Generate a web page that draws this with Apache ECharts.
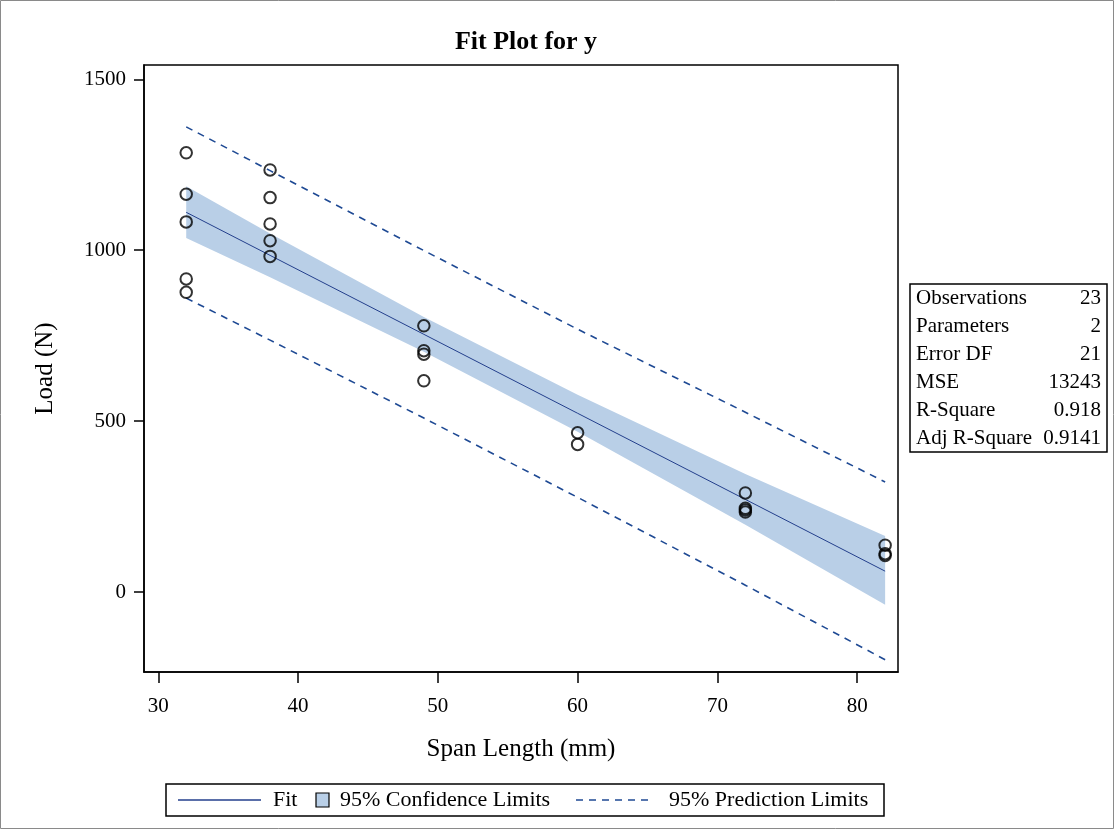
<!DOCTYPE html>
<html>
<head>
<meta charset="utf-8">
<title>Fit Plot for y</title>
<script src="https://cdn.jsdelivr.net/npm/echarts@6/dist/echarts.min.js"></script>
<style>
  html, body { margin: 0; padding: 0; background: #fff; }
  #chart { width: 1114px; height: 829px; }
</style>
</head>
<body>
<div id="chart"></div>
<script>
// distinct span lengths where the fit and the limits are drawn
const spanX = [32, 38, 49, 60, 72, 82]
const fitY = [1111, 985, 754, 523, 271, 61]
const ciLower = [1036, 921, 703, 469, 197, -37]
const ciUpper = [1187, 1049, 805, 577, 345, 164]
const piLower = [860, 737, 509, 277, 20, -198]
const piUpper = [1361, 1233, 999, 769, 526, 322]

// observations
const obsX = [32, 32, 32, 32, 32, 38, 38, 38, 38, 38, 49, 49, 49, 49, 60, 60, 72, 72, 72, 72, 82, 82, 82]
const obsY = [1285, 1164, 1083, 916, 877, 1235, 1154, 1077, 1028, 982, 779, 706, 696, 618, 466, 432, 290, 245, 240, 234, 137, 112, 107]

const xTicks = [30, 40, 50, 60, 70, 80]
const yTicks = [0, 500, 1000, 1500]

const statLabels = ['Observations', 'Parameters', 'Error DF', 'MSE', 'R-Square', 'Adj R-Square']
const statValues = ['23', '2', '21', '13243', '0.918', '0.9141']

const legendNames = ['Fit', '95% Confidence Limits', '95% Prediction Limits']

const FONT = '"Liberation Serif", "Times New Roman", serif'
const lineBlue = '#233f8c'
const dashBlue = '#1f4a94'
const bandBlue = '#b9cfe7'

const zip = (xs, ys) => xs.map((x, i) => [x, ys[i]])

const chart = echarts.init(document.getElementById('chart'))

// stats table on the right
const statRows = []
statLabels.forEach((label, i) => {
  const y = 298 + i * 28
  statRows.push({
    type: 'text', x: 916, y: y,
    style: { text: label, font: '21px ' + FONT, fill: '#000', textVerticalAlign: 'middle' }
  })
  statRows.push({
    type: 'text', x: 1101, y: y,
    style: { text: statValues[i], font: '21px ' + FONT, fill: '#000', textAlign: 'right', textVerticalAlign: 'middle' }
  })
})

// legend at the bottom
const legY = 800
const legendItems = [
  { type: 'rect', shape: { x: 166, y: 784, width: 718, height: 32 }, style: { fill: '#fff', stroke: '#000', lineWidth: 1.5 } },
  { type: 'line', shape: { x1: 178, y1: legY, x2: 261, y2: legY }, style: { stroke: lineBlue, lineWidth: 1.3 } },
  { type: 'text', x: 273, y: legY, style: { text: legendNames[0], font: '22px ' + FONT, fill: '#000', textVerticalAlign: 'middle' } },
  { type: 'rect', shape: { x: 316, y: 793, width: 13, height: 14 }, style: { fill: bandBlue, stroke: '#000', lineWidth: 1.2 } },
  { type: 'text', x: 340, y: legY, style: { text: legendNames[1], font: '22px ' + FONT, fill: '#000', textVerticalAlign: 'middle' } },
  { type: 'line', shape: { x1: 576, y1: legY, x2: 654, y2: legY }, style: { stroke: dashBlue, lineWidth: 1.6, lineDash: [7, 6] } },
  { type: 'text', x: 669, y: legY, style: { text: legendNames[2], font: '22px ' + FONT, fill: '#000', textVerticalAlign: 'middle' } }
]

const option = {
  animation: false,
  backgroundColor: '#fff',
  title: {
    text: 'Fit Plot for y',
    left: 521,
    top: 24,
    textAlign: 'center',
    textStyle: { fontFamily: FONT, fontSize: 26, fontWeight: 'bold', color: '#000' }
  },
  grid: {
    left: 144, top: 65, width: 754, height: 607,
    show: true, borderColor: '#000', borderWidth: 1.5, backgroundColor: 'transparent'
  },
  xAxis: {
    type: 'value',
    min: 28.98,
    max: 82.92,
    name: 'Span Length (mm)',
    nameLocation: 'middle',
    nameGap: 65,
    nameTextStyle: { fontFamily: FONT, fontSize: 25, color: '#000' },
    axisLine: { show: true, onZero: false, lineStyle: { color: '#000', width: 1.5 } },
    axisTick: { show: true, length: 11, customValues: xTicks, lineStyle: { color: '#000', width: 1.5 } },
    axisLabel: { customValues: xTicks, margin: 24, fontFamily: FONT, fontSize: 21, color: '#000', formatter: v => String(v) },
    splitLine: { show: false }
  },
  yAxis: {
    type: 'value',
    min: -234,
    max: 1542,
    name: 'Load (N)',
    nameLocation: 'middle',
    nameGap: 86,
    nameRotate: 90,
    nameTextStyle: { fontFamily: FONT, fontSize: 25, color: '#000' },
    axisLine: { show: true, onZero: false, lineStyle: { color: '#000', width: 1.5 } },
    axisTick: { show: true, length: 10, customValues: yTicks, lineStyle: { color: '#000', width: 1.5 } },
    axisLabel: { customValues: yTicks, margin: 18, fontFamily: FONT, fontSize: 21, color: '#000', formatter: v => String(v) },
    splitLine: { show: false }
  },
  series: [
    {
      name: legendNames[1],
      type: 'custom',
      data: zip(spanX, ciUpper),
      encode: { x: 0, y: 1 },
      silent: true,
      z: 1,
      renderItem: (params, api) => {
        if (params.dataIndex !== 0) return
        const top = spanX.map((x, i) => api.coord([x, ciUpper[i]]))
        const bottom = spanX.map((x, i) => api.coord([x, ciLower[i]])).reverse()
        return {
          type: 'polygon',
          shape: { points: top.concat(bottom) },
          style: { fill: bandBlue }
        }
      }
    },
    {
      name: legendNames[0],
      type: 'line',
      data: zip(spanX, fitY),
      symbol: 'none',
      lineStyle: { color: lineBlue, width: 1 },
      z: 2
    },
    {
      name: legendNames[2],
      type: 'line',
      data: zip(spanX, piUpper),
      symbol: 'none',
      lineStyle: { color: dashBlue, width: 1.6, type: [7, 6] },
      z: 2
    },
    {
      name: 'piLower',
      type: 'line',
      data: zip(spanX, piLower),
      symbol: 'none',
      lineStyle: { color: dashBlue, width: 1.6, type: [7, 6] },
      z: 2
    },
    {
      name: 'y',
      type: 'scatter',
      data: zip(obsX, obsY),
      symbol: 'circle',
      symbolSize: 11.5,
      itemStyle: { color: 'rgba(0,0,0,0)', borderColor: '#000', borderWidth: 2 },
      z: 3
    }
  ],
  graphic: [
    { type: 'rect', shape: { x: 0.5, y: 0.5, width: 1113, height: 828 }, style: { fill: 'none', stroke: '#8a8a8a', lineWidth: 1 }, silent: true },
    { type: 'rect', shape: { x: 910, y: 284, width: 197, height: 168 }, style: { fill: '#fff', stroke: '#000', lineWidth: 1.5 } },
    ...statRows,
    ...legendItems
  ]
}

chart.setOption(option)
</script>
</body>
</html>
